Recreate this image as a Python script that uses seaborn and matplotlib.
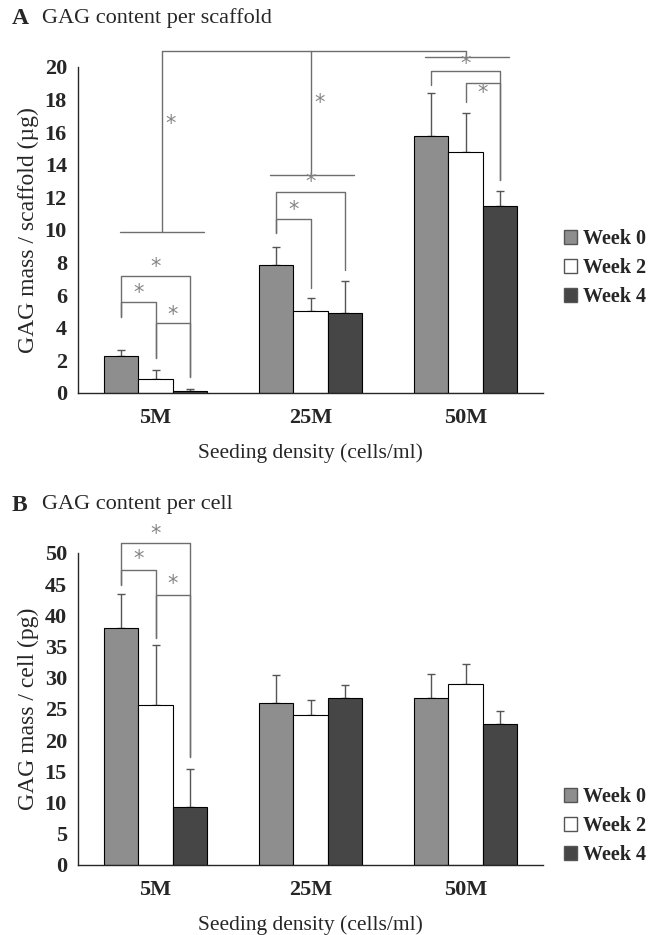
import numpy as np
import pandas as pd
import matplotlib
matplotlib.use('Agg')
import matplotlib.pyplot as plt
import seaborn as sns

densities = ['5M', '25M', '50M']
weeks = ['Week 0', 'Week 2', 'Week 4']

# panel A - GAG per scaffold (ug); rows = density, cols = week
scaffold_mean = [[2.27, 0.88, 0.15], [7.87, 5.00, 4.90], [15.75, 14.80, 11.50]]
scaffold_err = [[0.37, 0.53, 0.12], [1.11, 0.85, 1.97], [2.67, 2.36, 0.91]]

# panel B - GAG per cell (pg)
cell_mean = [[37.9, 25.6, 9.35], [26.0, 24.0, 26.7], [26.8, 29.0, 22.65]]
cell_err = [[5.5, 9.6, 6.0], [4.5, 2.4, 2.1], [3.85, 3.2, 2.05]]

# significance brackets: (group, bar_i, bar_j, top, left leg end, right leg end, star y)
scaffold_pairs = [
    (0, 0, 1, 5.6, 4.68, 2.15, 6.15),
    (0, 0, 2, 7.2, 4.68, 1.0, 7.75),
    (0, 1, 2, 4.28, 2.15, 1.0, 4.8),
    (1, 0, 1, 10.65, 9.8, 6.44, 11.2),
    (1, 0, 2, 12.3, 9.8, 7.55, 12.96),
    (2, 0, 2, 19.75, 18.9, 13.07, 20.2),
    (2, 1, 2, 19.0, 17.87, 13.07, 18.4),
]
cell_pairs = [
    (0, 0, 1, 47.3, 44.9, 36.4, 49.0),
    (0, 0, 2, 51.6, 44.9, 17.3, 53.0),
    (0, 1, 2, 43.3, 36.4, 17.3, 45.1),
]
# between-density comparisons (panel A)
group_level = [9.86, 13.4, 20.64]
group_top = 20.98
group_stars = [(0.1, 16.5), (1.06, 17.8)]

colors = ['#8e8e8e', '#ffffff', '#464646']
line_col = '#6e6e6e'
star_col = '#858585'

sns.set_style('white')
plt.rcParams['font.family'] = ['Liberation Serif', 'DejaVu Serif']


def long_df(means):
    rows = []
    for g, d in enumerate(densities):
        for h, w in enumerate(weeks):
            rows.append({'density': d, 'week': w, 'value': means[g][h]})
    return pd.DataFrame(rows)


def draw_panel(ax, means, errs, ymax, ystep, ylabel):
    df = long_df(means)
    sns.barplot(data=df, x='density', y='value', hue='week', palette=colors,
                edgecolor='black', linewidth=0.8, width=0.66, errorbar=None,
                saturation=1, ax=ax, zorder=2)
    centers = np.zeros((3, 3))
    bar_conts = list(ax.containers)
    for h, cont in enumerate(bar_conts):
        for g, bar in enumerate(cont):
            cx = bar.get_x() + bar.get_width() / 2
            centers[g, h] = cx
            ax.errorbar(cx, means[g][h], yerr=[[0], [errs[g][h]]], fmt='none',
                        ecolor='#555555', elinewidth=1, capsize=3, capthick=1, zorder=1)
    ax.set_xlim(-0.5, 2.5)
    ax.set_ylim(0, ymax)
    ax.set_yticks(np.arange(0, ymax + 0.1, ystep))
    ax.set_xticks([0, 1, 2])
    ax.set_xticks([-0.5, 0.5, 1.5, 2.5], minor=True)
    ax.tick_params(axis='x', which='major', length=0, pad=11)
    ax.tick_params(axis='x', which='minor', length=6, direction='out', width=1)
    ax.tick_params(axis='y', length=6, direction='out', width=1, pad=2)
    for lab in ax.get_xticklabels() + ax.get_yticklabels():
        lab.set_fontweight('bold')
        lab.set_fontsize(16)
    sns.despine(ax=ax)
    ax.spines['left'].set_linewidth(1)
    ax.spines['bottom'].set_linewidth(1)
    ax.set_xlabel('Seeding density (cells/ml)', fontsize=15.5, labelpad=11)
    ax.set_ylabel(ylabel, fontsize=17, labelpad=4)
    if ax.legend_ is not None:
        ax.legend_.remove()
    return centers


def bracket(ax, centers, pairs):
    for g, i, j, top, lb, rb, sy in pairs:
        x1, x2 = centers[g, i], centers[g, j]
        ax.plot([x1, x1, x2, x2], [lb, top, top, rb], color=line_col, lw=1,
                clip_on=False, zorder=3)
        ax.text((x1 + x2) / 2, sy, '*', color=star_col, fontsize=15,
                family='DejaVu Sans', ha='center', va='center')


fig = plt.figure(figsize=(6.48, 9.35), dpi=100)
axA = fig.add_axes([0.1204, 0.5797, 0.7176, 0.3487])
axB = fig.add_axes([0.1204, 0.0749, 0.7176, 0.3337])

cA = draw_panel(axA, scaffold_mean, scaffold_err, 20, 2, 'GAG mass / scaffold (\u00b5g)')
cB = draw_panel(axB, cell_mean, cell_err, 50, 5, 'GAG mass / cell (pg)')

bracket(axA, cA, scaffold_pairs)
bracket(axB, cB, cell_pairs)

# between-density lines in panel A
spans = [(-0.23, 0.31, 0.04), (-0.26, 0.28, 0.0), (-0.26, 0.28, 0.0)]
for g, (a, b, v) in enumerate(spans):
    axA.plot([g + a, g + b], [group_level[g]] * 2, color=line_col, lw=1, clip_on=False)
    axA.plot([g + v, g + v], [group_level[g], group_top], color=line_col, lw=1, clip_on=False)
axA.plot([0 + spans[0][2], 2 + spans[2][2]], [group_top] * 2, color=line_col, lw=1, clip_on=False)
for sx, sy in group_stars:
    axA.text(sx, sy, '*', color=star_col, fontsize=15, family='DejaVu Sans',
             ha='center', va='center')

# legends
for ax, yc in [(axA, 268), (axB, 826)]:
    handles = [plt.Rectangle((0, 0), 1, 1, facecolor=c, edgecolor='#555555', lw=1) for c in colors]
    leg = fig.legend(handles, weeks, loc='center left', bbox_to_anchor=(546 / 648, 1 - yc / 935),
                     frameon=False, handlelength=0.65, handleheight=0.65, handletextpad=0.3,
                     labelspacing=0.45, prop={'weight': 'bold', 'size': 14.5})

fig.text(12 / 648, 1 - 18 / 935, 'A', fontsize=17, fontweight='bold', va='center')
fig.text(42 / 648, 1 - 18 / 935, 'GAG content per scaffold', fontsize=16, va='center')
fig.text(12 / 648, 1 - 505 / 935, 'B', fontsize=17, fontweight='bold', va='center')
fig.text(42 / 648, 1 - 505 / 935, 'GAG content per cell', fontsize=16, va='center')

fig.savefig('out.png', dpi=100)
